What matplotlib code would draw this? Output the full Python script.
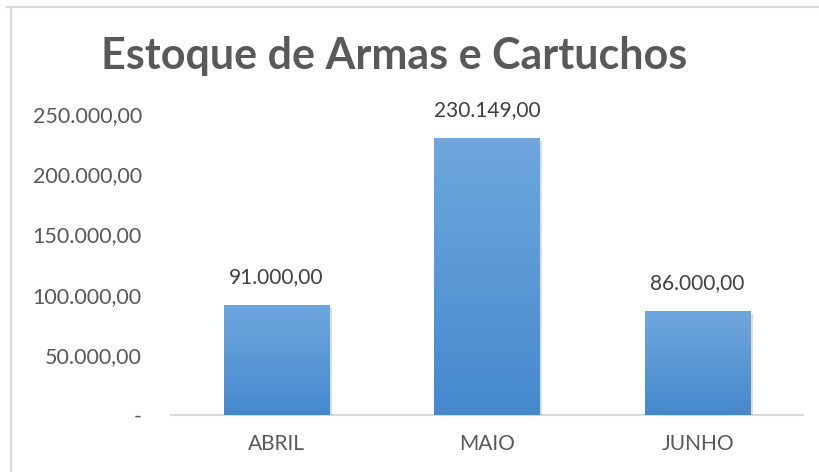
import matplotlib
matplotlib.use("Agg")
import matplotlib.pyplot as plt
import matplotlib.patheffects as pe
from matplotlib.lines import Line2D
from matplotlib.colors import LinearSegmentedColormap
import numpy as np

meses = ["ABRIL", "MAIO", "JUNHO"]
estoque = [91000, 230149, 86000]
yticks = [0, 50000, 100000, 150000, 200000, 250000]
titulo = "Estoque de Armas e Cartuchos"

plt.rcParams['font.family'] = ['Lato', 'DejaVu Sans']


def fmt_br(v):
    if v == 0:
        return "-"
    s = "{:,.2f}".format(v)
    return s.replace(",", "X").replace(".", ",").replace("X", ".")


fig = plt.figure(figsize=(8.2, 4.72), dpi=100)
ax = fig.add_axes([171 / 820, 1 - 415 / 472, 632 / 820, 301 / 472])

# chart border (only top and left visible in the crop)
fig.add_artist(Line2D([7 / 820, 1], [1 - 7 / 472, 1 - 7 / 472], color="#d9d9d9", lw=1.6))
fig.add_artist(Line2D([11 / 820, 11 / 820], [0, 1 - 7 / 472], color="#d9d9d9", lw=1.6))

x = np.arange(len(meses))
bars = ax.bar(x, estoque, width=0.5, color="#5b9bd5", zorder=2,
              path_effects=[pe.SimplePatchShadow(offset=(2, -2), shadow_rgbFace="#8f8f8f", alpha=0.3), pe.Normal()])

cmap = LinearSegmentedColormap.from_list("grad", ["#4589cd", "#6fa7dd"])
grad = np.linspace(0, 1, 256).reshape(-1, 1)
for b in bars:
    x0, y0 = b.get_x(), b.get_y()
    im = ax.imshow(grad, cmap=cmap, origin="lower", aspect="auto", zorder=3,
                   extent=[x0, x0 + b.get_width(), y0, y0 + b.get_height()])
    im.set_clip_path(b)

for xi, v in zip(x, estoque):
    ax.annotate(fmt_br(v), (xi, v), xytext=(0, 13), textcoords="offset points",
                ha="center", va="bottom", fontsize=15, color="#404040")

ax.set_xlim(-0.5, 2.5)
ax.set_ylim(0, 250000)
ax.set_yticks(yticks)
ax.set_yticklabels([fmt_br(v) for v in yticks])
ax.set_xticks(x)
ax.set_xticklabels(meses)
ax.tick_params(axis="y", length=0, pad=21, labelsize=15.5, labelcolor="#595959")
ax.tick_params(axis="x", length=0, pad=14, labelsize=15, labelcolor="#595959")

for s in ["top", "right", "left"]:
    ax.spines[s].set_visible(False)
ax.spines["bottom"].set_color("#d9d9d9")
ax.spines["bottom"].set_linewidth(1.5)
ax.spines["bottom"].set_zorder(1)

fig.text(394 / 820, 1 - 56 / 472, titulo, ha="center", va="center",
         fontsize=31, fontweight="bold", color="#595959")

fig.savefig("out.png", dpi=100)
